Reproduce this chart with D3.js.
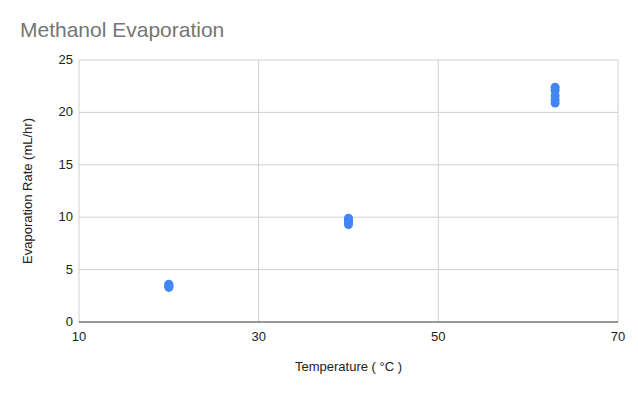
<!DOCTYPE html>
<html>
<head>
<meta charset="utf-8">
<script src="https://cdn.jsdelivr.net/npm/d3@7"></script>
<style>
  body { margin: 0; background: #fff; font-family: "Liberation Sans", Arial, sans-serif; }
</style>
</head>
<body>
<div id="chart"></div>
<script>
// temperature (°C) and measured evaporation rate (mL/hr)
const temps = [20, 20, 20, 20, 40, 40, 40, 40, 63, 63, 63, 63, 63];
const rates = [3.6, 3.5, 3.4, 3.3, 9.9, 9.7, 9.5, 9.3, 22.4, 22.1, 21.6, 21.2, 20.9];
const xTicks = [10, 30, 50, 70];
const yTicks = [0, 5, 10, 15, 20, 25];

const width = 638, height = 393;
const margin = { top: 60, right: 20, bottom: 71, left: 79 };

const svg = d3.select("#chart").append("svg")
    .attr("width", width)
    .attr("height", height);

const x = d3.scaleLinear().domain([10, 70]).range([margin.left, width - margin.right]);
const y = d3.scaleLinear().domain([0, 25]).range([height - margin.bottom, margin.top]);

// gridlines
svg.append("g")
    .selectAll("line")
    .data(xTicks)
    .enter()
    .append("line")
    .attr("x1", d => x(d)).attr("x2", d => x(d))
    .attr("y1", y(0)).attr("y2", y(25))
    .attr("stroke", "#d0d0d0");

svg.append("g")
    .selectAll("line")
    .data(yTicks.filter(d => d > 0))
    .enter()
    .append("line")
    .attr("x1", x(10)).attr("x2", x(70))
    .attr("y1", d => y(d)).attr("y2", d => y(d))
    .attr("stroke", "#d0d0d0");

// baseline
svg.append("line")
    .attr("x1", x(10)).attr("x2", x(70))
    .attr("y1", y(0)).attr("y2", y(0))
    .attr("stroke", "#333");

// tick labels
svg.append("g")
    .selectAll("text")
    .data(yTicks)
    .enter()
    .append("text")
    .attr("x", x(10) - 6)
    .attr("y", d => y(d) + 4)
    .attr("text-anchor", "end")
    .attr("font-size", 13)
    .attr("fill", "#222")
    .text(d => d);

svg.append("g")
    .selectAll("text")
    .data(xTicks)
    .enter()
    .append("text")
    .attr("x", d => x(d))
    .attr("y", y(0) + 19)
    .attr("text-anchor", "middle")
    .attr("font-size", 13)
    .attr("fill", "#222")
    .text(d => d);

// points
svg.append("g")
    .selectAll("circle")
    .data(temps.map((t, i) => ({ t: t, r: rates[i] })))
    .enter()
    .append("circle")
    .attr("cx", d => x(d.t))
    .attr("cy", d => y(d.r))
    .attr("r", 4.5)
    .attr("fill", "#4285f4");

// titles
svg.append("text")
    .attr("x", 20)
    .attr("y", 37)
    .attr("font-size", 21)
    .attr("fill", "#757575")
    .text("Methanol Evaporation");

svg.append("text")
    .attr("x", (x(10) + x(70)) / 2)
    .attr("y", 371)
    .attr("text-anchor", "middle")
    .attr("font-size", 13)
    .attr("fill", "#222")
    .text("Temperature ( °C )");

svg.append("text")
    .attr("transform", `translate(32,${(y(0) + y(25)) / 2}) rotate(-90)`)
    .attr("text-anchor", "middle")
    .attr("font-size", 13)
    .attr("fill", "#222")
    .text("Evaporation Rate (mL/hr)");
</script>
</body>
</html>
